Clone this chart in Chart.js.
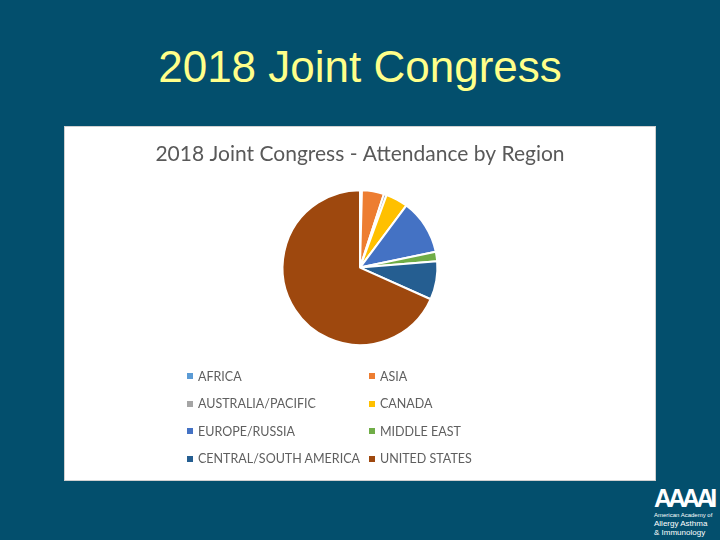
<!DOCTYPE html>
<html>
<head>
<meta charset="utf-8">
<script src="https://cdn.jsdelivr.net/npm/chart.js@4/dist/chart.umd.min.js"></script>
<style>
    body { margin: 0; width: 720px; height: 540px; background: #034f6d; position: relative; overflow: hidden; font-family: "Liberation Sans", Arial, sans-serif; }
    #slide-title { position: absolute; left: 0; top: 42px; width: 720px; text-align: center; color: #ffff8a; font-size: 44px; }
    #panel { position: absolute; left: 64px; top: 126px; width: 590px; height: 353px; background: #fff; border: 1px solid #d0d0d0; }
    #chart-wrap { position: absolute; left: 0; top: 0; width: 590px; height: 353px; }
    #legend { position: absolute; left: 122px; top: 240px; display: grid; grid-template-columns: 182px 160px; row-gap: 9px; font-family: Lato, sans-serif; font-size: 12.5px; color: #5f5f5f; }
    .item { display: flex; align-items: center; height: 18.5px; white-space: nowrap; }
    .box { width: 6px; height: 6px; margin-right: 5px; }
    #logo { position: absolute; left: 654px; top: 485px; color: #fff; font-family: "Liberation Sans", Arial, sans-serif; white-space: nowrap; }
    #logo .big { font-size: 25px; font-weight: bold; letter-spacing: -4px; line-height: 26px; }
    #logo .tiny { font-size: 6px; line-height: 8px; }
    #logo .small { font-size: 8px; line-height: 9px; }
</style>
</head>
<body>
<div id="slide-title">2018 Joint Congress</div>
<div id="panel">
    <div id="chart-wrap"><canvas id="pie"></canvas></div>
    <div id="legend"></div>
</div>
<div id="logo">
    <div class="big">AAAAI</div>
    <div class="tiny">American Academy of</div>
    <div class="small">Allergy Asthma<br>&amp; Immunology</div>
</div>
<script>
// Data
const regions = ['AFRICA', 'ASIA', 'AUSTRALIA/PACIFIC', 'CANADA', 'EUROPE/RUSSIA', 'MIDDLE EAST', 'CENTRAL/SOUTH AMERICA', 'UNITED STATES'];
const attendance = [4, 46, 6, 46, 115, 20, 80, 683];
const sliceColors = ['#5b9bd5', '#ed7d31', '#a5a5a5', '#ffc000', '#4472c4', '#70ad47', '#255e91', '#9e480e'];

const ctx = document.getElementById('pie').getContext('2d');
const pieChart = new Chart(ctx, {
    type: 'pie',
    data: {
        labels: regions,
        datasets: [{
            data: attendance,
            backgroundColor: sliceColors,
            borderColor: '#ffffff',
            borderWidth: 2
        }]
    },
    options: {
        responsive: true,
        maintainAspectRatio: false,
        animation: false,
        layout: { padding: { bottom: 134 } },
        plugins: {
            legend: { display: false },
            tooltip: { enabled: false },
            title: {
                display: true,
                text: '2018 Joint Congress - Attendance by Region',
                color: '#595959',
                font: { family: 'Lato', size: 21, weight: 'normal' },
                padding: { top: 15, bottom: 22 }
            }
        }
    }
});

// Two-column legend built from the chart's own labels
const legendEl = document.getElementById('legend');
pieChart.options.plugins.legend.labels.generateLabels(pieChart).forEach(item => {
    const row = document.createElement('div');
    row.className = 'item';
    row.innerHTML = `<span class="box" style="background:${item.fillStyle}"></span><span>${item.text}</span>`;
    legendEl.appendChild(row);
});
</script>
</body>
</html>
